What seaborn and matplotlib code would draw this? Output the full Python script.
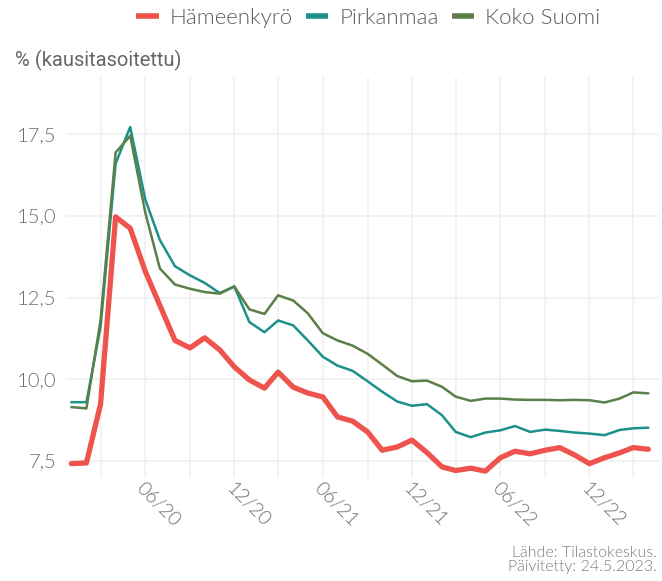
import pandas as pd
import matplotlib
matplotlib.use("Agg")
import matplotlib.pyplot as plt
import matplotlib.dates as mdates
from matplotlib.lines import Line2D
import matplotlib.ticker as mticker
import seaborn as sns

# monthly data, Jan 2020 - Apr 2023
months = pd.date_range("2020-01-01", periods=40, freq="MS")

hameenkyro = [7.42, 7.44, 9.24, 14.97, 14.62, 13.3, 12.26, 11.19, 10.96, 11.27,
              10.9, 10.38, 9.98, 9.73, 10.22, 9.76, 9.58, 9.46, 8.85, 8.72,
              8.39, 7.83, 7.93, 8.14, 7.76, 7.32, 7.21, 7.28, 7.19, 7.6,
              7.8, 7.72, 7.83, 7.91, 7.68, 7.42, 7.6, 7.75, 7.91, 7.86]
pirkanmaa = [9.3, 9.3, 11.6, 16.6, 17.72, 15.5, 14.26, 13.46, 13.18, 12.95,
             12.64, 12.84, 11.75, 11.44, 11.8, 11.65, 11.19, 10.69, 10.42, 10.26,
             9.94, 9.62, 9.32, 9.19, 9.24, 8.9, 8.39, 8.23, 8.37, 8.44,
             8.57, 8.39, 8.46, 8.42, 8.37, 8.34, 8.29, 8.45, 8.5, 8.52]
koko_suomi = [9.15, 9.11, 11.8, 16.94, 17.45, 15.1, 13.39, 12.9, 12.77, 12.67,
              12.62, 12.84, 12.14, 12.0, 12.57, 12.41, 12.02, 11.41, 11.19, 11.03,
              10.78, 10.45, 10.1, 9.94, 9.96, 9.77, 9.47, 9.34, 9.41, 9.41,
              9.38, 9.37, 9.37, 9.36, 9.37, 9.36, 9.29, 9.41, 9.6, 9.57]

series = ["Hämeenkyrö", "Pirkanmaa", "Koko Suomi"]
colors = {"Hämeenkyrö": "#ee534e", "Pirkanmaa": "#1b9189", "Koko Suomi": "#5a7f49"}
widths = {"Hämeenkyrö": 3.8, "Pirkanmaa": 1.8, "Koko Suomi": 1.8}

df = pd.DataFrame({"kk": list(months) * 3,
                   "arvo": hameenkyro + pirkanmaa + koko_suomi,
                   "alue": [s for s in series for _ in months]})

sns.set_theme(style="whitegrid")
plt.rcParams["font.family"] = ["Lato", "DejaVu Sans"]

fig = plt.figure(figsize=(6.62, 5.81), dpi=100)
ax = fig.add_axes([66 / 662, 1 - 478 / 581, (659 - 66) / 662, (478 - 77) / 581])

sns.lineplot(data=df, x="kk", y="arvo", hue="alue", hue_order=series,
             palette=colors, size="alue", sizes=widths, size_order=series,
             legend=False, ax=ax)

# axes
ax.set_xlim(pd.Timestamp("2019-12-21"), pd.Timestamp("2023-04-23"))
ax.set_ylim(6.98, 19.25)
ax.set_xlabel("")
ax.set_ylabel("")
for sp in ax.spines.values():
    sp.set_visible(False)

ax.xaxis.set_major_locator(mdates.MonthLocator(bymonth=[6, 12]))
ax.xaxis.set_major_formatter(mdates.DateFormatter("%m/%y"))
ax.xaxis.set_minor_locator(mdates.MonthLocator(bymonth=[3, 9]))
ax.yaxis.set_major_locator(mticker.FixedLocator([7.5, 10, 12.5, 15, 17.5]))
ax.yaxis.set_major_formatter(mticker.FuncFormatter(lambda v, p: f"{v:.1f}".replace(".", ",")))

ax.grid(True, which="both", axis="x", color="#efefef", linewidth=1.1)
ax.grid(True, which="major", axis="y", color="#efefef", linewidth=1.1)
ax.tick_params(axis="both", which="both", length=0)
ax.tick_params(axis="y", labelsize=14.5, labelcolor="#6c6c6c", pad=7)
ax.tick_params(axis="x", labelsize=14, labelcolor="#6c6c6c", pad=1)
for lab in ax.get_xticklabels():
    lab.set_rotation(-45)
    lab.set_ha("left")
    lab.set_va("top")
    lab.set_rotation_mode("anchor")
for lab in ax.get_xticklabels() + ax.get_yticklabels():
    lab.set_fontweight(300)

# legend
handles = [Line2D([0], [0], color=colors[s], lw=4, solid_capstyle="butt") for s in series]
leg = ax.legend(handles, series, loc="center", bbox_to_anchor=(0.51, 1 + 59 / 401),
                ncol=3, frameon=False, fontsize=16, handlelength=1.0,
                handletextpad=0.5, columnspacing=0.6)
for t in leg.get_texts():
    t.set_color("#5c5c5c")
    t.set_fontweight(300)

fig.text(15 / 662, 1 - 60 / 581, "% (kausitasoitettu)", fontsize=14.5,
         color="#666666", va="center", ha="left", family=["Roboto", "DejaVu Sans"])
fig.text(657 / 662, 1 - 560 / 581, "Lähde: Tilastokeskus.\nPäivitetty: 24.5.2023.",
         fontsize=11.5, color="#7a7a7a", ha="right", va="center", multialignment="right",
         fontweight=300, linespacing=1.0)

fig.savefig("out.png", dpi=100)
